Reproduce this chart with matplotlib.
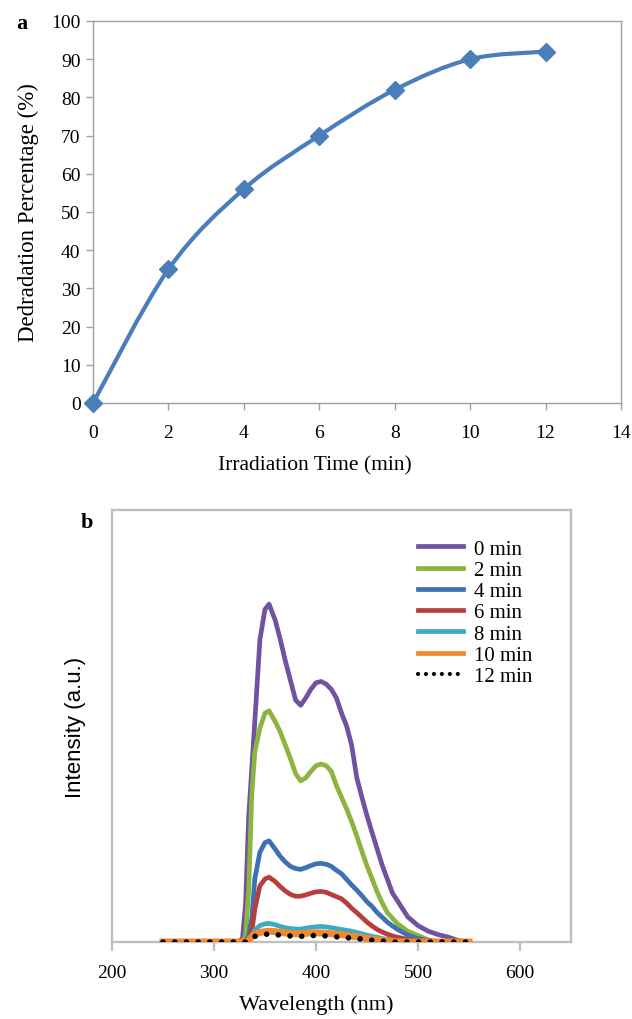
import matplotlib
matplotlib.use("Agg")
import matplotlib.pyplot as plt
from matplotlib.lines import Line2D
from matplotlib.path import Path
from matplotlib.patches import PathPatch
import numpy as np

plt.rcParams["font.family"] = ["Liberation Serif", "DejaVu Serif"]

# ---- panel a: degradation vs irradiation time ----
time_min = [0, 2, 4, 6, 8, 10, 12]
degradation_pct = [0, 35, 56, 70, 82, 90, 92]

# ---- panel b: emission spectra ----
wavelength_nm = [250, 325, 328, 331, 334, 337, 340, 345, 350, 354, 360, 365, 370,
                 375, 380, 385, 390, 395, 400, 405, 410, 415, 420, 425, 430, 435,
                 440, 445, 450, 455, 460, 465, 470, 475, 480, 490, 500, 510, 520,
                 530, 540, 550]
spectra = {
    "0 min": [0, 0, 10, 90, 290, 400, 510, 700, 770, 782, 745, 700, 650, 605, 560,
              548, 565, 585, 600, 603, 597, 585, 565, 530, 500, 455, 380, 335, 292,
              253, 215, 177, 145, 113, 95, 58, 38, 25, 17, 11, 3, 0],
    "2 min": [0, 0, 0, 15, 120, 340, 440, 495, 530, 535, 510, 486, 455, 424, 390,
              373, 380, 395, 408, 412, 408, 395, 362, 335, 308, 278, 245, 210, 176,
              146, 116, 90, 68, 55, 42, 25, 15, 5, 0, 0, 0, 0],
    "4 min": [0, 0, 0, 0, 15, 53, 146, 208, 230, 234, 215, 198, 185, 175, 170,
              168, 172, 177, 181, 182, 180, 175, 166, 158, 145, 132, 120, 107, 93,
              82, 68, 57, 46, 37, 29, 16, 8, 3, 0, 0, 0, 0],
    "6 min": [0, 0, 0, 0, 8, 23, 76, 130, 146, 150, 140, 128, 118, 110, 106, 106,
              109, 113, 116, 117, 115, 110, 105, 100, 90, 78, 68, 57, 46, 37, 29,
              23, 18, 14, 11, 6, 3, 0, 0, 0, 0, 0],
    "8 min": [0, 0, 0, 0, 3, 15, 28, 38, 42, 43, 40, 36, 33, 31, 30, 30, 32, 34,
              35, 36, 35, 33, 31, 29, 27, 25, 22, 19, 16, 13, 11, 8, 6, 4, 3, 1, 0,
              0, 0, 0, 0, 0],
    "10 min": [0, 0, 0, 0, 4, 12, 18, 22, 24, 25, 24, 22, 21, 20, 19, 19, 20, 21,
               21, 21, 20, 19, 18, 17, 15, 13, 12, 10, 8, 6, 5, 3, 2, 1, 0, 0, 0,
               0, 0, 0, 0, 0],
    "12 min": [0, 0, 0, 0, 3, 9, 13, 16, 18, 18, 17, 16, 15, 14, 13, 13, 14, 15,
               15, 15, 14, 13, 12, 11, 10, 9, 8, 7, 5, 4, 3, 2, 1, 0, 0, 0, 0, 0,
               0, 0, 0, 0],
}
series_colors = {
    "0 min": "#7152a0", "2 min": "#8cb43e", "4 min": "#3e70b6", "6 min": "#b83e3b",
    "8 min": "#3fa9c6", "10 min": "#f08a2c", "12 min": "black",
}


def smooth_path(xs, ys):
    """Excel-like smoothed line: cubic Bezier segments through every point."""
    pts = np.column_stack([xs, ys]).astype(float)
    verts = [pts[0]]
    codes = [Path.MOVETO]
    n = len(pts)
    for i in range(n - 1):
        p0 = pts[max(i - 1, 0)]
        p1, p2 = pts[i], pts[i + 1]
        p3 = pts[min(i + 2, n - 1)]
        verts += [p1 + (p2 - p0) / 6, p2 - (p3 - p1) / 6, p2]
        codes += [Path.CURVE4] * 3
    return Path(verts, codes)


fig = plt.figure(figsize=(6.32, 10.20), dpi=100)

# ---------- panel a ----------
ax1 = fig.add_axes([93 / 632, 1 - 404 / 1020, 528 / 632, 382 / 1020])
blue = "#4a7ebb"
ax1.add_patch(PathPatch(smooth_path(time_min, degradation_pct), facecolor="none",
                        edgecolor=blue, lw=3.0, capstyle="round", zorder=3))
ax1.plot(time_min, degradation_pct, linestyle="none", marker="D", markersize=9,
         color=blue, zorder=4, clip_on=False)
ax1.set_xlim(0, 14)
ax1.set_ylim(0, 100)
ax1.set_xticks(range(0, 15, 2))
ax1.set_yticks(range(0, 101, 10))
for sp in ax1.spines.values():
    sp.set_color("#a0a0a0")
    sp.set_linewidth(1.0)
ax1.tick_params(axis="x", direction="out", length=5, width=1.0, color="#a0a0a0",
                labelsize=14, pad=10)
ax1.tick_params(axis="y", direction="out", length=5, width=1.0, color="#a0a0a0",
                labelsize=14, pad=4)
ax1.set_xlabel("Irradiation Time (min)", fontsize=15.5)
ax1.xaxis.set_label_coords(0.42, -0.138)
ax1.set_ylabel("Dedradation Percentage (%)", fontsize=16.5)
ax1.yaxis.set_label_coords(-0.102, 0.5)
fig.text(22 / 632, 1 - 24 / 1020, "a", fontsize=16, fontweight="bold",
         ha="center", va="center")

# ---------- panel b ----------
ax2 = fig.add_axes([112 / 632, 1 - 943 / 1020, 459 / 632, 432 / 1020])
handles = []
for name, vals in spectra.items():
    if name == "12 min":
        ax2.plot(wavelength_nm, vals, color="black", lw=4.0,
                 linestyle=(0, (0.01, 2.1)), dash_capstyle="round", zorder=5)
        handles.append(Line2D([], [], color="black", lw=3.0,
                              linestyle=(0, (0.01, 1.9)), dash_capstyle="round",
                              label=name))
    elif name == "10 min":
        ax2.plot(wavelength_nm, vals, color=series_colors[name], lw=5.0, zorder=4)
        handles.append(Line2D([], [], color=series_colors[name], lw=3.4,
                              label=name))
    else:
        ax2.plot(wavelength_nm, vals, color=series_colors[name], lw=3.4, zorder=3)
        handles.append(Line2D([], [], color=series_colors[name], lw=3.4,
                              label=name))
ax2.set_xlim(200, 650)
ax2.set_ylim(0, 1000)
ax2.set_xticks([200, 300, 400, 500, 600])
ax2.set_yticks([])
for sp in ax2.spines.values():
    sp.set_color("#bfbfbf")
    sp.set_linewidth(1.7)
ax2.tick_params(axis="x", direction="out", length=6.5, width=1.7, color="#bfbfbf",
                labelsize=14, pad=9)
ax2.set_xlabel("Wavelength (nm)", fontsize=16)
ax2.xaxis.set_label_coords(0.444, -0.12)
ax2.set_ylabel("Intensity (a.u.)", fontsize=16,
               family=["Liberation Sans", "DejaVu Sans"])
ax2.yaxis.set_label_coords(-0.056, 0.5)
ax2.legend(handles=handles, loc="upper left",
           bbox_to_anchor=((418 - 112) / 459, (943 - 540) / 432),
           frameon=False, fontsize=15, handlelength=2.15, handletextpad=0.55,
           labelspacing=0.08, borderpad=0, borderaxespad=0)
fig.text(87 / 632, 1 - 523 / 1020, "b", fontsize=16, fontweight="bold",
         ha="center", va="center")

fig.savefig("out.png", dpi=100)
